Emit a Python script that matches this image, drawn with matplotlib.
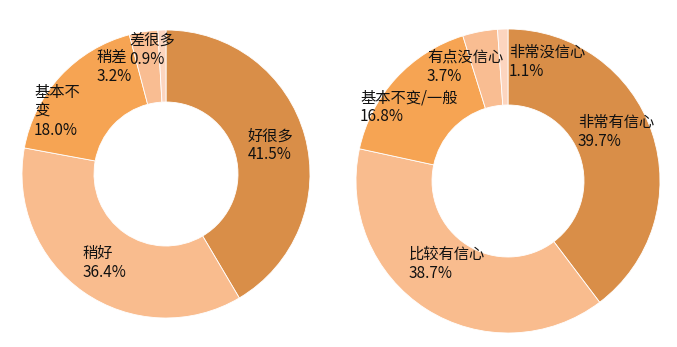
import matplotlib.pyplot as plt
import numpy as np

plt.rcParams['font.family'] = ['Noto Sans CJK SC', 'DejaVu Sans']

# left donut data
left_labels = ['好很多', '稍好', '基本不\n变', '稍差', '差很多']
left_values = [41.5, 36.4, 18.0, 3.2, 0.9]

# right donut data
right_labels = ['非常有信心', '比较有信心', '基本不变/一般', '有点没信心', '非常没信心']
right_values = [39.7, 38.7, 16.8, 3.7, 1.1]

colors = ['#d98e48', '#f9bc8e', '#f6a453', '#f9bd92', '#fcd5bf']

# label placement tweaks (ha, dx px, dy px up) per slice
left_tweaks = [('center', 0, 0), ('center', 0, 0), ('right', -7, -11),
               ('center', -35, 0), ('center', -11, 16)]
right_tweaks = [('center', 0, 13), ('center', 0, 13), ('left', -64, -3),
                ('center', -22, 2), ('left', 5, 5)]

fig = plt.figure(figsize=(6.77, 3.47), dpi=100)


def donut(ax, labels, values, tweaks):
    ax.pie(values, colors=colors, startangle=90, counterclock=False,
           radius=1.0, wedgeprops=dict(width=0.5, edgecolor='white', linewidth=0.6))
    total = sum(values)
    cum = 0
    for lab, v, (ha, dx, dy) in zip(labels, values, tweaks):
        mid = (cum + v / 2) / total * 2 * np.pi
        cum += v
        x = 0.75 * np.sin(mid)
        y = 0.75 * np.cos(mid)
        ax.annotate('%s\n%.1f%%' % (lab, v), (x, y), textcoords='offset points',
                    xytext=(dx * 0.72, dy * 0.72), ha=ha, va='center',
                    multialignment='left', fontsize=11, color='#111111',
                    linespacing=1.15)
    ax.set_xlim(-1, 1)
    ax.set_ylim(-1, 1)
    ax.set_aspect('equal')
    ax.axis('off')


# axes placed in pixel terms: centre and outer radius of each ring
W, H = 677, 347
ax1 = fig.add_axes([(166 - 144) / W, 1 - (174 + 144) / H, 288 / W, 288 / H])
ax2 = fig.add_axes([(508 - 152) / W, 1 - (181 + 152) / H, 304 / W, 304 / H])

donut(ax1, left_labels, left_values, left_tweaks)
donut(ax2, right_labels, right_values, right_tweaks)

fig.savefig('out.png', dpi=100)
